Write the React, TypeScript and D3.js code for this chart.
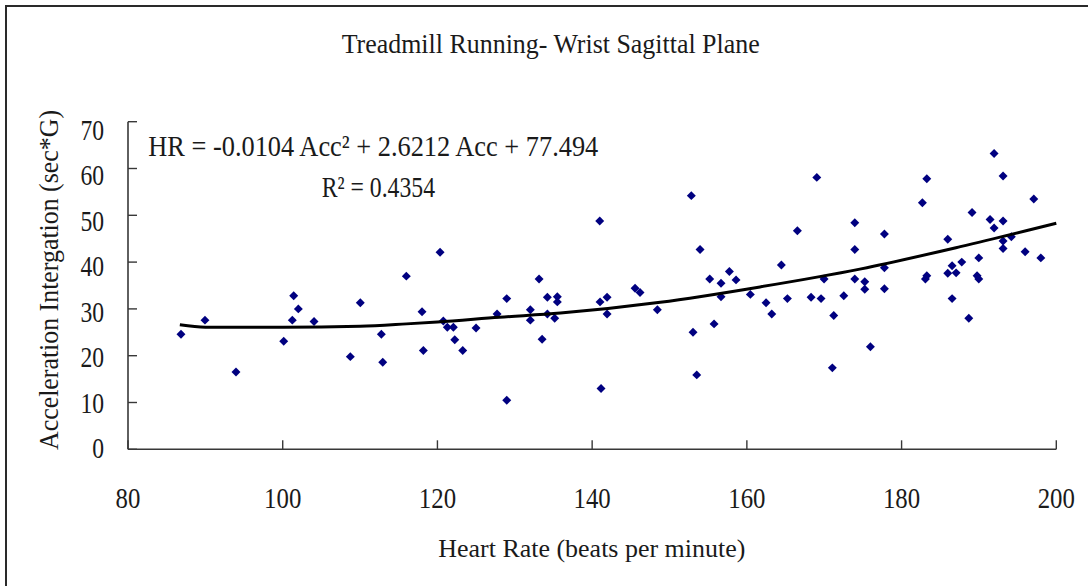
import React from "react";
import * as d3 from "d3";

// Scatter data: Heart Rate (x) vs Acceleration Integration (y)
const heartRate = [
  86.85, 89.95, 93.96, 100.13, 101.24, 101.42, 102.02, 104.05, 108.74, 110.03,
  112.75, 112.93, 115.98, 118.01, 118.18, 120.34, 120.76, 121.28, 122.06, 122.24,
  123.27, 124.99, 127.71, 128.96, 128.96, 132.01, 132.01, 133.14, 133.53, 134.21,
  134.21, 135.16, 135.5, 135.5, 140.98, 141.02, 141.15, 141.93, 141.93, 145.55,
  146.19, 148.43, 152.82, 153.04, 153.52, 153.95, 155.2, 155.76, 156.66, 156.66,
  157.74, 158.6, 160.45, 162.48, 163.22, 164.46, 165.24, 166.53, 168.3, 169.04,
  169.59, 169.98, 171.23, 171.05, 172.53, 173.95, 173.95, 173.95, 175.24, 175.24,
  175.97, 177.78, 177.78, 177.78, 182.69, 183.26, 183.08, 183.26, 185.97, 185.97,
  186.53, 186.53, 187.05, 187.78, 188.69, 189.11, 189.98, 189.76, 189.98, 191.44,
  191.96, 191.96, 193.12, 193.12, 193.12, 193.12, 194.19, 195.97, 197.09, 198.0,
];
const accel = [
  24.6, 27.6, 16.5, 23.1, 27.6, 32.8, 30.0, 27.3, 19.8, 31.3,
  24.6, 18.6, 37.0, 29.4, 21.1, 42.1, 27.4, 26.1, 26.1, 23.4,
  21.1, 25.9, 28.9, 32.2, 10.5, 29.8, 27.6, 36.4, 23.5, 32.5,
  28.9, 28.0, 32.6, 31.5, 48.8, 31.5, 13.0, 32.5, 28.9, 34.4,
  33.5, 29.8, 54.2, 25.0, 15.9, 42.7, 36.4, 26.8, 35.5, 32.6,
  38.0, 36.2, 33.1, 31.3, 28.9, 39.4, 32.2, 46.7, 32.5, 58.1,
  32.2, 36.4, 28.6, 17.4, 32.8, 48.4, 42.7, 36.4, 35.8, 34.2,
  21.9, 46.0, 38.8, 34.3, 52.7, 57.8, 36.4, 37.1, 44.9, 37.6,
  39.2, 32.2, 37.7, 40.0, 28.0, 50.6, 40.9, 37.1, 36.4, 49.1,
  47.3, 63.2, 58.4, 48.8, 44.5, 42.9, 45.4, 42.2, 53.5, 40.9,
];

// Trend line
const trendX = [86.7, 90, 100, 110, 116, 120, 128, 135.9, 148.8, 161.7, 174.6, 187.6, 200];
const trendY = [26.6, 26.1, 26.1, 26.3, 26.8, 27.2, 28.2, 29.1, 31.4, 34.7, 38.5, 43.3, 48.3];

const xTicks = [80, 100, 120, 140, 160, 180, 200];
const yTicks = [0, 10, 20, 30, 40, 50, 60, 70];

const title = "Treadmill Running- Wrist Sagittal Plane";
const xLabel = "Heart Rate (beats per minute)";
const yLabel = "Acceleration Intergation (sec*G)";
const equation = "HR = -0.0104 Acc\u00B2 + 2.6212 Acc + 77.494";
const rSquared = "R\u00B2 = 0.4354";

const FONT = "'Liberation Serif', 'Times New Roman', serif";
const TEXT = "#1a1a1a";
const AXIS = "#383838";

export default function App() {
  const x = d3.scaleLinear().domain([80, 200]).range([128, 1056.3]);
  const y = d3.scaleLinear().domain([0, 70]).range([449.3, 121.7]);
  const yLab = d3.scaleLinear().domain([0, 70]).range([448.3, 129.7]);

  const pts = heartRate.map((h, i) => [h, accel[i]] as [number, number]);
  const trend = trendX.map((t, i) => [t, trendY[i]] as [number, number]);
  const line = d3
    .line<[number, number]>()
    .x((d) => x(d[0]))
    .y((d) => y(d[1]))
    .curve(d3.curveMonotoneX);
  const diamond = d3.symbol().type(d3.symbolSquare).size(40)() as string;

  return (
    <svg
      width={1088}
      height={586}
      style={{ position: "absolute", left: 0, top: 0, background: "#fff" }}
      fontFamily={FONT}
    >
      <rect x={0} y={0} width={1088} height={586} fill="#fff" />
      {/* outer chart border */}
      <rect x={6} y={6} width={1200} height={700} fill="none" stroke="#2a2a2a" strokeWidth={2} />

      {/* title */}
      <text x={341.7} y={53.3} fontSize={27} fill={TEXT} textLength={418} lengthAdjust="spacingAndGlyphs">
        {title}
      </text>

      {/* axes */}
      <line x1={x(80)} x2={x(80)} y1={y(70)} y2={y(0)} stroke={AXIS} strokeWidth={1.6} />
      <line x1={x(80)} x2={x(200)} y1={y(0)} y2={y(0)} stroke={AXIS} strokeWidth={1.6} />
      {yTicks.map((t) => (
        <line key={"yt" + t} x1={x(80)} x2={x(80) + 9} y1={y(t)} y2={y(t)} stroke={AXIS} strokeWidth={1.4} />
      ))}
      {xTicks.map((t) => (
        <line key={"xt" + t} x1={x(t)} x2={x(t)} y1={y(0)} y2={y(0) - 9} stroke={AXIS} strokeWidth={1.4} />
      ))}

      {/* tick labels */}
      {yTicks.map((t) => {
        const s = String(t);
        const len = 11.8 * s.length;
        return (
          <text key={"yl" + t} x={104 - len} y={yLab(t) + 10} fontSize={30} fill={TEXT} textLength={len} lengthAdjust="spacingAndGlyphs">
            {s}
          </text>
        );
      })}
      {xTicks.map((t) => {
        const s = String(t);
        const len = 12.4 * s.length;
        return (
          <text key={"xl" + t} x={x(t) - len / 2} y={508.3} fontSize={30} fill={TEXT} textLength={len} lengthAdjust="spacingAndGlyphs">
            {s}
          </text>
        );
      })}

      {/* axis titles */}
      <text x={438.3} y={557.3} fontSize={26} fill={TEXT} textLength={307} lengthAdjust="spacingAndGlyphs">
        {xLabel}
      </text>
      <text
        transform="translate(57.7,450) rotate(-90)"
        x={0}
        y={0}
        fontSize={27}
        fill={TEXT}
        textLength={340}
        lengthAdjust="spacingAndGlyphs"
      >
        {yLabel}
      </text>

      {/* points */}
      {pts.map((d, i) => (
        <path key={"p" + i} d={diamond} transform={`translate(${x(d[0])},${y(d[1])}) rotate(45)`} fill="#000080" />
      ))}

      {/* trend line */}
      <path d={line(trend) as string} fill="none" stroke="#000" strokeWidth={3} />

      {/* equation */}
      <text x={148.3} y={155.7} fontSize={30} fill={TEXT} textLength={450} lengthAdjust="spacingAndGlyphs">
        {equation}
      </text>
      <text x={321.7} y={197.3} fontSize={30} fill={TEXT} textLength={113.3} lengthAdjust="spacingAndGlyphs">
        {rSquared}
      </text>
    </svg>
  );
}
